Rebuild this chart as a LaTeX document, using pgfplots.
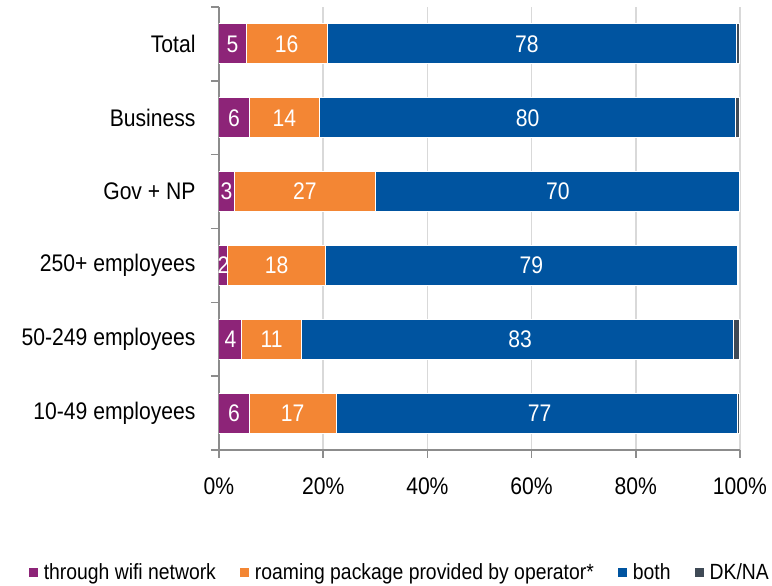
\documentclass[border=0pt]{standalone}
\usepackage{fontspec}
\setmainfont{Liberation Sans}[FakeStretch=0.88]
\usepackage{pgfplots}
\pgfplotsset{compat=1.18}
\definecolor{cwifi}{RGB}{141,36,120}
\definecolor{croam}{RGB}{243,134,52}
\definecolor{cboth}{RGB}{0,84,160}
\definecolor{cdk}{RGB}{63,74,86}
\definecolor{caxis}{RGB}{140,140,140}
\definecolor{cgrid}{RGB}{217,217,217}
\newcommand\lbl{\fontsize{24}{26}\selectfont}
\newcommand\lgd{\fontsize{22}{24}\selectfont}
\begin{document}
\begin{tikzpicture}
\useasboundingbox (-219pt,-136pt) rectangle (553pt,450pt);
\pgfplotsset{base/.style={width=521pt,height=443pt,scale only axis,at={(0pt,0pt)},anchor=south west,xmin=0,xmax=100,ymin=-0.5,ymax=5.5}}
\begin{axis}[base,
  xbar stacked, bar width=40pt,
  axis x line*=bottom, axis y line*=left,
  axis line style={caxis,line width=1.5pt},
  xtick={0,20,...,100},
  xticklabels={0\%,20\%,40\%,60\%,80\%,100\%},
  xmajorgrids, grid style={cgrid,line width=1.5pt},
  tick align=outside, major tick length=8pt,
  tick style={caxis,line width=1.5pt},
  ytick={-0.5,0.5,...,5.5}, yticklabels={},
  extra y ticks={0,1,2,3,4,5},
  extra y tick labels={10-49 employees,50-249 employees,250+ employees,Gov + NP,Business,Total},
  extra y tick style={major tick length=0pt, tick style={draw=none}, yticklabel style={xshift=-20pt}},
  tick label style={font=\lbl, text=black},
  xticklabel style={yshift=-16pt},
  legend style={at={(0.347,-0.275)}, anchor=center, draw=none, fill=none, legend columns=4, font=\lgd,
    /tikz/every even column/.append style={column sep=22pt},
    /tikz/every odd column/.append style={column sep=4pt}},
  legend image code/.code={\fill[#1,draw=none] (0pt,-5pt) rectangle (9pt,4pt);},
]
\addplot[fill=cwifi, draw=white, line width=1pt] coordinates {(5.8,0) (4.4,1) (1.7,2) (2.9,3) (5.8,4) (5.2,5)};
\addplot[fill=croam, draw=white, line width=1pt] coordinates {(16.7,0) (11.4,1) (18.7,2) (27.2,3) (13.5,4) (15.6,5)};
\addplot[fill=cboth, draw=white, line width=1pt] coordinates {(77.1,0) (83.0,1) (79.2,2) (69.9,3) (79.9,4) (78.6,5)};
\addplot[fill=cdk, draw=white, line width=1pt] coordinates {(0.4,0) (1.2,1) (0,2) (0,3) (0.8,4) (0.6,5)};
\legend{through wifi network,roaming package provided by operator*,both,DK/NA}
\end{axis}
\begin{axis}[base, hide axis, clip=false]
\addplot[draw=none, mark=none, nodes near coords, point meta=explicit symbolic,
  every node near coord/.style={anchor=center, text=white, font=\lbl, inner sep=0pt}]
coordinates {
 (2.9,0) [6] (14.15,0) [17] (61.55,0) [77]
 (2.2,1) [4] (10.1,1) [11] (57.8,1) [83]
 (0.85,2) [2] (11.05,2) [18] (59.95,2) [79]
 (1.45,3) [3] (16.5,3) [27] (65.05,3) [70]
 (2.9,4) [6] (12.55,4) [14] (59.25,4) [80]
 (2.6,5) [5] (13.0,5) [16] (59.1,5) [78]
};
\end{axis}
\end{tikzpicture}
\end{document}
